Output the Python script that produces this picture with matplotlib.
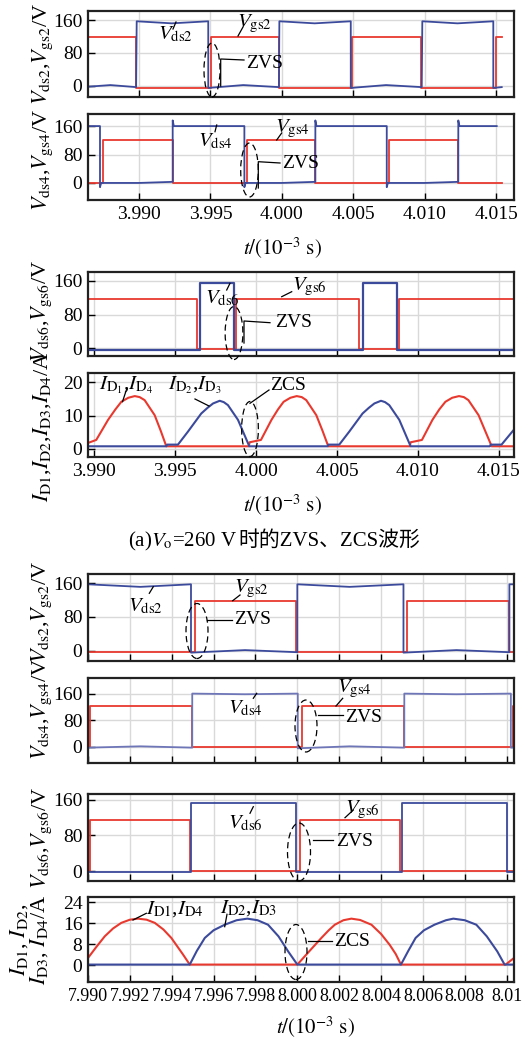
import matplotlib
matplotlib.use("Agg")
import matplotlib.pyplot as plt
from matplotlib.lines import Line2D
from matplotlib.patches import Ellipse

# ---------------- data ----------------
# (a) Vo = 260 V, t in 10^-3 s
vds2_t = [3.98643, 3.98800, 3.98980, 3.98984, 3.99230, 3.99485, 3.99485, 3.99730, 3.99980, 3.99983,
          4.00230, 4.00483, 4.00483, 4.00730, 4.00980, 4.00984, 4.01230, 4.01481, 4.01481, 4.01540]
vds2_v = [-2, 2, -3, 157, 152, 157, -5, 2, -3, 157, 152, 157, -5, 2, -3, 157, 152, 157, -5, -3]
vgs2_t = [3.98643, 3.98977, 3.98977, 3.99502, 3.99502, 3.99983, 3.99983, 4.00494, 4.00494,
          4.00973, 4.00973, 4.01498, 4.01498, 4.01540]
vgs2_v = [118, 118, -4, -4, 118, 118, -4, -4, 118, 118, -4, -4, 118, 118]

vds4_t = [3.98643, 3.98727, 3.98727, 3.98735, 3.99000, 3.99230, 3.99236, 3.99236, 3.99244,
          3.99738, 3.99738, 3.99746, 4.00000, 4.00230, 4.00235, 4.00235, 4.00243,
          4.00735, 4.00735, 4.00743, 4.01000, 4.01230, 4.01236, 4.01236, 4.01244, 4.01505]
vds4_v = [160, 160, -12, 0, 0, 3, 3, 176, 160, 160, -12, 0, 0, 3, 3, 176, 160,
          160, -12, 0, 0, 3, 3, 176, 160, 160]
vgs4_t = [3.98643, 3.98750, 3.98750, 3.99236, 3.99236, 3.99754, 3.99754, 4.00235, 4.00235,
          4.00753, 4.00753, 4.01236, 4.01236, 4.01540]
vgs4_v = [0, 0, 121, 121, 0, 0, 121, 121, 0, 0, 121, 121, 0, 0]

vgs6_t = [3.98961, 3.99633, 3.99633, 3.99876, 3.99876, 4.00634, 4.00634, 4.00881, 4.00881, 4.01594]
vgs6_v = [116, 116, -1, -1, 116, 116, -1, -1, 116, 116]
vds6_t = [3.98961, 3.99655, 3.99655, 3.99863, 3.99863, 4.00659, 4.00659, 4.00869, 4.00869, 4.01594]
vds6_v = [-3, -3, 154, 154, -3, -3, 154, 154, -3, -3]

id14_t = [3.98961, 3.99012, 3.99085, 3.99130, 3.99167, 3.99210, 3.99250, 3.99280, 3.99311, 3.99373, 3.99410, 3.99445,
          3.99955, 3.99960, 4.00030, 4.00095, 4.00135, 4.00170, 4.00212, 4.00251, 4.00282, 4.00310, 4.00372, 4.00410, 4.00446,
          4.00950, 4.00955, 4.01025, 4.01090, 4.01132, 4.01170, 4.01212, 4.01254, 4.01284, 4.01312, 4.01375, 4.01415, 4.01456,
          4.01594]
id14_v = [1.8, 2.7, 8.7, 11.8, 14.1, 15.3, 15.8, 15.5, 14.6, 10.1, 5.5, 0.8,
          0.8, 2.0, 2.7, 8.7, 11.8, 14.1, 15.3, 15.8, 15.5, 14.6, 10.1, 5.5, 0.8,
          0.8, 2.0, 2.7, 8.7, 11.8, 14.1, 15.3, 15.8, 15.5, 14.6, 10.1, 5.5, 0.8,
          0.8]
id23_t = [3.98961, 3.99445, 3.99450, 3.99517, 3.99579, 3.99661, 3.99700, 3.99734, 3.99775, 3.99800, 3.99826, 3.99888, 3.99958,
          4.00442, 4.00447, 4.00514, 4.00576, 4.00658, 4.00697, 4.00731, 4.00772, 4.00797, 4.00823, 4.00885, 4.00955,
          4.01445, 4.01450, 4.01517, 4.01594]
id23_v = [0.8, 0.8, 1.3, 1.3, 5.2, 10.6, 12.3, 13.6, 14.4, 14.0, 13.1, 8.7, 0.8,
          0.8, 1.3, 1.3, 5.2, 10.6, 12.3, 13.6, 14.4, 14.0, 13.1, 8.7, 0.8,
          0.8, 1.3, 1.3, 5.8]

# (b) t in 10^-3 s
vds2b_t = [7.99000, 7.99250, 7.99492, 7.99492, 7.99750, 8.00000, 8.00000, 8.00250, 8.00507, 8.00507,
           8.00760, 8.01013, 8.01013, 8.01035]
vds2b_v = [157, 151, 157, -4, 2, -3, 157, 151, 157, -4, 2, -3, 157, 157]
vgs2b_t = [7.99000, 7.99511, 7.99511, 7.99994, 7.99994, 8.00526, 8.00526, 8.01011, 8.01011, 8.01035]
vgs2b_v = [-3, -3, 118, 118, -3, -3, 118, 118, -3, -3]

vds4b_t = [7.99000, 7.99250, 7.99498, 7.99498, 7.99750, 8.00002, 8.00002, 8.00250, 8.00511, 8.00511,
           8.00760, 8.01020, 8.01020, 8.01035]
vds4b_v = [-2, 2, -2, 160, 158, 160, -4, 2, -2, 160, 158, 160, -2, -2]
vgs4b_t = [7.99000, 7.99011, 7.99011, 7.99498, 7.99498, 8.00022, 8.00022, 8.00508, 8.00508,
           8.01032, 8.01032, 8.01035]
vgs4b_v = [0, 0, 122, 122, 0, 0, 122, 122, 0, 0, 122, 122]

vgs6b_t = [7.99000, 7.99011, 7.99011, 7.99487, 7.99487, 8.00013, 8.00013, 8.00491, 8.00491, 8.01035]
vgs6b_v = [0, 0, 115, 115, 0, 0, 115, 115, 0, 0]
vds6b_t = [7.99000, 7.99491, 7.99491, 7.99994, 7.99994, 8.00500, 8.00500, 8.01000, 8.01000, 8.01035]
vds6b_v = [-1, -1, 152, 152, -1, -1, 152, 152, -1, -1]

id14b_t = [7.99000, 7.99040, 7.99080, 7.99120, 7.99159, 7.99200, 7.99239, 7.99280, 7.99319, 7.99360, 7.99398,
           7.99430, 7.99454, 7.99486,
           8.00000, 8.00060, 8.00115, 8.00150, 8.00179, 8.00220, 8.00258, 8.00300, 8.00354, 8.00400, 8.00441,
           8.00470, 8.00495,
           8.00995, 8.01035]
id14b_v = [2.8, 7.0, 11.0, 14.0, 16.1, 17.3, 17.7, 17.3, 16.1, 13.6, 10.4,
           6.8, 4.1, 0.3,
           0.3, 5.6, 10.4, 13.3, 15.4, 17.1, 17.7, 17.2, 15.4, 11.9, 7.8,
           4.3, 0.3,
           0.3, 2.8]
id23b_t = [7.99000, 7.99486, 7.99520, 7.99558, 7.99600, 7.99653, 7.99710, 7.99761, 7.99810, 7.99860, 7.99910,
           7.99956, 8.00000,
           8.00495, 8.00530, 8.00565, 8.00605, 8.00655, 8.00710, 8.00745, 8.00800, 8.00855, 8.00905,
           8.00955, 8.00990,
           8.01035]
id23b_v = [0.3, 0.3, 5.5, 10.4, 13.3, 15.4, 17.1, 17.7, 17.1, 15.4, 11.0,
           5.3, 0.3,
           0.3, 5.5, 10.4, 13.3, 15.4, 17.1, 17.7, 17.1, 15.4, 11.0,
           5.3, 0.3,
           0.3]

xt_a = [3.990, 3.995, 4.000, 4.005, 4.010, 4.015]
xt_b = [7.990, 7.992, 7.994, 7.996, 7.998, 8.000, 8.002, 8.004, 8.006, 8.008, 8.010]
xt_b_labels = ["7.990", "7.992", "7.994", "7.996", "7.998", "8.000", "8.002", "8.004", "8.006", "8.008", "8.01"]

RED = "#e8392f"
BLUE = "#3c4a9c"
FAM = ["Liberation Serif", "Noto Sans CJK SC"]

plt.rcParams["font.family"] = FAM
plt.rcParams["mathtext.fontset"] = "stix"

W, H = 529, 1044
fig = plt.figure(figsize=(W / 100, H / 100), dpi=100)


def panel(top, bottom, xlim, ylim, xticks, yticks, xlabels=None, xsize=14):
    ax = fig.add_axes([88 / W, 1 - bottom / H, (514 - 88) / W, (bottom - top) / H])
    ax.set_xlim(*xlim)
    ax.set_ylim(*ylim)
    ax.set_xticks(xticks)
    ax.set_yticks(yticks)
    ax.grid(True, color="#d9d9d9", lw=1.0)
    ax.set_axisbelow(True)
    for s in ax.spines.values():
        s.set_linewidth(1.6)
        s.set_color("#222222")
    ax.tick_params(direction="in", length=5, width=1, labelsize=14, pad=4)
    if xlabels is None:
        ax.tick_params(labelbottom=False)
    else:
        ax.set_xticklabels(xlabels)
        ax.tick_params(axis="x", labelsize=xsize)
    return ax


def ftext(x, y, s, size=15, ha="left", **kw):
    return fig.text(x / W, 1 - y / H, s, fontsize=size, ha=ha, va="center", **kw)


def fline(pts):
    fig.add_artist(Line2D([p[0] / W for p in pts], [1 - p[1] / H for p in pts],
                          transform=fig.transFigure, color="k", lw=0.9))


def fellipse(cx, cy, w, h):
    fig.add_artist(Ellipse((cx / W, 1 - cy / H), w / W, h / H, transform=fig.transFigure,
                           fill=False, ec="k", lw=0.9, ls=(0, (5, 3))))


xa = (3.98643, 4.01626)
xa2 = (3.98961, 4.01594)
xb = (7.990, 8.01035)
fmt_a = ["%.3f" % v for v in xt_a]

ax1 = panel(11, 97, xa, (-27, 182), xt_a, [0, 80, 160])
ax1.plot(vgs2_t, vgs2_v, color=RED, lw=1.3)
ax1.plot(vds2_t, vds2_v, color=BLUE, lw=1.3)

ax2 = panel(114, 200, xa, (-48, 194), xt_a, [0, 80, 160], fmt_a)
ax2.plot(vgs4_t, vgs4_v, color=RED, lw=1.3)
ax2.plot(vds4_t, vds4_v, color=BLUE, lw=1.3)

ax3 = panel(272, 356, xa2, (-18, 181), xt_a, [0, 80, 160])
ax3.plot(vgs6_t, vgs6_v, color=RED, lw=1.3)
ax3.plot(vds6_t, vds6_v, color=BLUE, lw=1.6)

ax4 = panel(373, 457, xa2, (-2.4, 22.7), xt_a, [0, 10, 20], fmt_a)
ax4.plot(id14_t, id14_v, color=RED, lw=1.5)
ax4.plot(id23_t, id23_v, color=BLUE, lw=1.5)

ax5 = panel(574, 661, xb, (-23.7, 181.3), xt_b, [0, 80, 160])
ax5.plot(vgs2b_t, vgs2b_v, color=RED, lw=1.3)
ax5.plot(vds2b_t, vds2b_v, color=BLUE, lw=1.3)

ax6 = panel(678, 763, xb, (-48, 206.7), xt_b, [0, 80, 160])
ax6.plot(vgs4b_t, vgs4b_v, color=RED, lw=1.3)
ax6.plot(vds4b_t, vds4b_v, color="#6f76b8", lw=1.3)

ax7 = panel(794, 881, xb, (-21.9, 172.8), xt_b, [0, 80, 160])
ax7.plot(vgs6b_t, vgs6b_v, color=RED, lw=1.3)
ax7.plot(vds6b_t, vds6b_v, color=BLUE, lw=1.3)

ax8 = panel(897, 982, xb, (-6.3, 25.9), xt_b, [0, 8, 16, 24], xt_b_labels, xsize=13)
ax8.plot(id14b_t, id14b_v, color=RED, lw=1.5)
ax8.plot(id23b_t, id23b_v, color=BLUE, lw=1.5)

# axis titles
tlab = r"$t/(10^{-3}\ \mathrm{s})$"
ftext(282, 248, tlab, ha="center")
ftext(282, 505, tlab, ha="center")
ftext(315, 1027, tlab, ha="center")

yl = dict(rotation=90, ha="center", size=16)
ftext(43, 54, r"$V_{\rm ds2}$,$V_{\rm gs2}$/V", **yl)
ftext(43, 160, r"$V_{\rm ds4}$,$V_{\rm gs4}$/V", **yl)
ftext(42, 311, r"$V_{\rm ds6}$,$V_{\rm gs6}$/V", **yl)
ftext(42, 427, r"$I_{\rm D1}$,$I_{\rm D2}$,$I_{\rm D3}$,$I_{\rm D4}$/A", **yl)
ftext(42, 612, r"$V_{\rm ds2}$,$V_{\rm gs2}$/V", **yl)
ftext(42, 709, r"$V_{\rm ds4}$,$V_{\rm gs4}$/V", **yl)
ftext(42, 838, r"$V_{\rm ds6}$,$V_{\rm gs6}$/V", **yl)
ftext(19, 940, r"$I_{\rm D1}$, $I_{\rm D2}$,", **yl)
ftext(39, 940, r"$I_{\rm D3}$, $I_{\rm D4}$/A", **yl)

# caption: math part and CJK part set side by side, centred together
cap1 = fig.text(0, 1 - 546 / H, "(a)$V_{\\rm o}$=260 V", fontsize=15, va="baseline")
cap2 = fig.text(0, 1 - 546 / H, "时的ZVS、ZCS波形", fontsize=15, va="baseline", family=FAM)
rend = fig.canvas.get_renderer()
w1 = cap1.get_window_extent(rend).width
w2 = cap2.get_window_extent(rend).width
x0 = 274 - (w1 + w2) / 2
cap1.set_x(x0 / W)
cap2.set_x((x0 + w1 + 1) / W)

# annotations, panel 1
ftext(158, 34.5, r"$V_{\rm ds2}$")
fline([(176, 22), (173, 29)])
ftext(237, 24, r"$V_{\rm gs2}$")
fline([(243, 27), (238, 36)])
fellipse(212, 70, 16, 54)
fline([(220.7, 86), (220.7, 59), (244, 60)])
ftext(246, 63, "ZVS", size=14)

# panel 2
ftext(198, 141, r"$V_{\rm ds4}$")
fline([(216.7, 125), (215, 131.7)])
ftext(275, 129, r"$V_{\rm gs4}$")
fline([(281.7, 133), (276.7, 140)])
fellipse(249.5, 170, 17.6, 54)
fline([(258.3, 188), (258.3, 161.7), (280, 163)])
ftext(282, 163, "ZVS", size=14)

# panel 3
ftext(205, 298.5, r"$V_{\rm ds6}$")
fline([(230, 283.3), (226.7, 290)])
ftext(291.7, 287, r"$V_{\rm gs6}$")
fline([(291.7, 291.7), (281.7, 296.7)])
fellipse(234, 333, 17.7, 53)
fline([(244, 343), (244, 321), (270, 322.7)])
ftext(275, 322.7, "ZVS", size=14)

# panel 4
ftext(99, 385, r"$I_{{\rm D}_1}$,$I_{{\rm D}_4}$")
fline([(127, 388), (122.5, 401.7)])
ftext(168, 385, r"$I_{{\rm D}_2}$,$I_{{\rm D}_3}$")
fline([(195, 399), (209, 406)])
fellipse(250, 429, 16.7, 55)
fline([(269, 390), (250, 403.3)])
ftext(270, 385, "ZCS", size=14)

# panel 5
ftext(128, 606, r"$V_{\rm ds2}$")
fline([(153.3, 586.7), (149.3, 593.3)])
ftext(234, 589, r"$V_{\rm gs2}$")
fline([(240, 595), (232.7, 600.7)])
fellipse(197, 631, 22, 55)
fline([(207, 620), (232, 620)])
ftext(234, 620, "ZVS", size=14)

# panel 6
ftext(228, 708, r"$V_{\rm ds4}$")
fline([(256.7, 693.3), (253.3, 698.3)])
ftext(336.7, 689, r"$V_{\rm gs4}$")
fline([(342.7, 698.3), (336, 706)])
fellipse(306, 726, 22, 52)
fline([(318.3, 715), (343, 715)])
ftext(345, 717, "ZVS", size=14)

# panel 7
ftext(228, 823, r"$V_{\rm ds6}$")
fline([(253.3, 806.7), (250, 813.3)])
ftext(345, 810, r"$V_{\rm gs6}$")
fline([(353.3, 810), (345, 817.7)])
fellipse(299, 852, 23, 58)
fline([(313, 840), (333, 840)])
ftext(336, 841, "ZVS", size=14)

# panel 8
ftext(146, 909, r"$I_{\rm D1}$,$I_{\rm D4}$")
fline([(146.3, 913.3), (133, 920)])
ftext(220, 908, r"$I_{\rm D2}$,$I_{\rm D3}$")
fline([(227, 914.3), (224.7, 926.7)])
fellipse(296, 952, 22, 55)
fline([(308, 941), (332, 941)])
ftext(334, 941, "ZCS", size=14)

fig.savefig("out.png", dpi=100)
